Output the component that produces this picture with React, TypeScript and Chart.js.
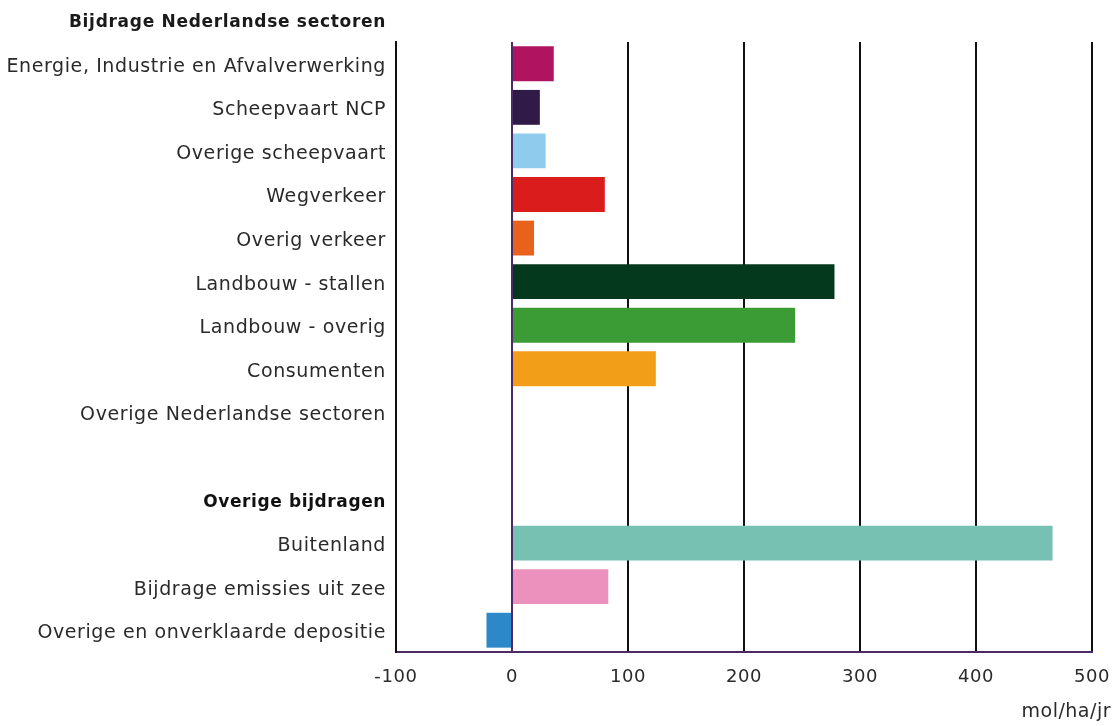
import React, { useEffect, useRef } from "react";
import { Chart, registerables } from "chart.js";

Chart.register(...registerables);

const headerTop = "Bijdrage Nederlandse sectoren";
const categories = [
  "Energie, Industrie en Afvalverwerking",
  "Scheepvaart NCP",
  "Overige scheepvaart",
  "Wegverkeer",
  "Overig verkeer",
  "Landbouw - stallen",
  "Landbouw - overig",
  "Consumenten",
  "Overige Nederlandse sectoren",
  "",
  "Overige bijdragen",
  "Buitenland",
  "Bijdrage emissies uit zee",
  "Overige en onverklaarde depositie",
];
const values: (number | null)[] = [36, 24, 29, 80, 19, 278, 244, 124, 0, null, null, 466, 83, -22];
const colors = [
  "#b0135f",
  "#2f1a48",
  "#8ecbec",
  "#da1c1c",
  "#e8621b",
  "#04391d",
  "#3b9b35",
  "#f39e18",
  "#2f1a48",
  "#ffffff",
  "#ffffff",
  "#77c1b3",
  "#ec90bd",
  "#2d88c9",
];
const boldRows = ["Overige bijdragen"];
const xMin = -100;
const xMax = 500;
const xStep = 100;
const unitLabel = "mol/ha/jr";

const FONT = "'DejaVu Sans', sans-serif";
const RIGHT_GAP = 22;

export default function App() {
  const ref = useRef<HTMLCanvasElement | null>(null);
  useEffect(() => {
    if (!ref.current) return;
    const extra = {
      id: "extraText",
      afterLayout(chart: any) {
        const x = chart.scales.x;
        const target = chart.width - RIGHT_GAP;
        if (x && x.right !== target) {
          x.right = target;
          x.width = target - x.left;
          x.maxWidth = x.width;
          x.configure();
          chart.chartArea.right = target;
          chart.chartArea.width = target - chart.chartArea.left;
        }
      },
      beforeDraw(chart: any) {
        chart.ctx.letterSpacing = "0.6px";
      },
      afterDraw(chart: any) {
        const ctx = chart.ctx;
        const area = chart.chartArea;
        ctx.save();
        ctx.letterSpacing = "0.7px";
        ctx.fillStyle = "#1a1a1a";
        ctx.font = `bold 17px ${FONT}`;
        ctx.textAlign = "right";
        ctx.textBaseline = "middle";
        ctx.fillText(headerTop, area.left - 10, 23);
        ctx.letterSpacing = "0.5px";
        ctx.font = `19px ${FONT}`;
        ctx.fillStyle = "#2a2a2a";
        ctx.fillText(unitLabel, chart.width - 3, 712);
        ctx.restore();
      },
    };
    const chart = new Chart(ref.current, {
      type: "bar",
      data: {
        labels: categories,
        datasets: [
          {
            data: values,
            backgroundColor: colors,
            categoryPercentage: 0.8,
            barPercentage: 1,
          },
        ],
      },
      options: {
        indexAxis: "y",
        animation: false,
        responsive: true,
        maintainAspectRatio: false,
        layout: { autoPadding: false, padding: { top: 42, right: RIGHT_GAP, left: 0, bottom: 0 } },
        plugins: { legend: { display: false }, tooltip: { enabled: false }, title: { display: false } },
        scales: {
          x: {
            min: xMin,
            max: xMax,
            ticks: {
              stepSize: xStep,
              color: "#2a2a2a",
              font: { family: FONT, size: 18 },
              padding: 15,
            },
            grid: {
              drawTicks: false,
              lineWidth: 2,
              color: (c: any) => (c.tick && c.tick.value === 0 ? "#4a2b68" : "#111"),
            },
            border: { display: true, color: "#4a2b68", width: 2 },
            afterFit: (s: any) => {
              s.height = 74;
            },
          },
          y: {
            ticks: {
              color: (c: any) => (boldRows.includes(categories[c.index]) ? "#111" : "#2a2a2a"),
              font: (c: any) => ({
                family: FONT,
                size: boldRows.includes(categories[c.index]) ? 17 : 19,
                weight: boldRows.includes(categories[c.index]) ? "bold" : "normal",
              }),
              padding: 10,
              labelOffset: 3,
              autoSkip: false,
            },
            grid: { display: false, drawTicks: false },
            border: { display: true, color: "#111", width: 2 },
            afterFit: (s: any) => {
              s.width = 396;
            },
          },
        },
      },
      plugins: [extra],
    });
    return () => chart.destroy();
  }, []);
  return (
    <div style={{ position: "fixed", left: 0, top: 0, width: 1114, height: 726, background: "#fff" }}>
      <canvas ref={ref} />
    </div>
  );
}
